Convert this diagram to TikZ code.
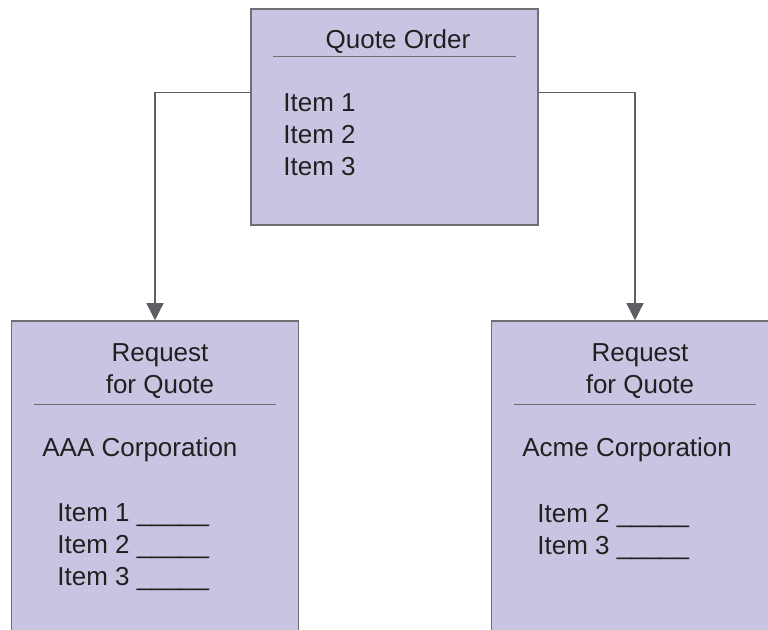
\documentclass[tikz,border=0pt]{standalone}
\usepackage{fontspec}
\setmainfont{Liberation Sans}
\usetikzlibrary{arrows.meta}
\definecolor{boxfill}{RGB}{200,197,226}
\definecolor{boxline}{RGB}{112,112,116}
\definecolor{inktext}{RGB}{35,31,32}
\begin{document}
\begin{tikzpicture}
[x=0.5pt,y=-0.5pt,
  boxdecorate/.style={shape=rectangle,draw=boxline,line width=0.75pt,fill=boxfill,
    minimum width=143.5pt,inner sep=0pt},
  textdecorate/.style={inner sep=0pt,text=inktext,font=\fontsize{13}{16}\selectfont},
  ruledecorate/.style={draw=boxline,line width=0.5pt},
  linedecorate/.style={draw=boxline!85!black,line width=0.65pt,
    -{Triangle[length=8.5pt,width=8.5pt]}}]
\useasboundingbox (0,0) rectangle (768,630);
\begin{scope}
\clip (0,0) rectangle (768,630);
%% quote order box
\node (order) at (394.5,117) [boxdecorate,minimum height=108pt] {};
\node (ordertitle) at (398,49) [textdecorate,anchor=base] {Quote Order};
\node (orderitems) at (283,93.5) [textdecorate,anchor=north west,align=left]
  {Item 1\\Item 2\\Item 3};
\draw[ruledecorate] ([shift={(23,48)}]order.north west)
  -- ([shift={(-23,48)}]order.north east);
%% request for quote boxes
\foreach \nodename/\x/\company/\itemlist in {%
  aaa/155/AAA Corporation/{Item 1 \_\_\_\_\_\\Item 2 \_\_\_\_\_\\Item 3 \_\_\_\_\_},
  acme/635/Acme Corporation/{Item 2 \_\_\_\_\_\\Item 3 \_\_\_\_\_}} {
  \node (\nodename) at (\x,500.5) [boxdecorate,minimum height=179.5pt] {};
  \node (\nodename title) at ({\x+5},343) [textdecorate,anchor=north,align=center]
    {Request\\for Quote};
  \node (\nodename name) at ({\x-113},457) [textdecorate,anchor=base west] {\company};
  \node (\nodename items) at ({\x-98},503.5) [textdecorate,anchor=north west,align=left]
    {\itemlist};
  \draw[ruledecorate] ([shift={(23,84)}]\nodename.north west)
    -- ([shift={(-23,84)}]\nodename.north east);
}
%% connectors
\draw[linedecorate] ([yshift=-42pt]order.north west) -| (aaa.north);
\draw[linedecorate] ([yshift=-42pt]order.north east) -| (acme.north);
\end{scope}
\end{tikzpicture}
\end{document}
